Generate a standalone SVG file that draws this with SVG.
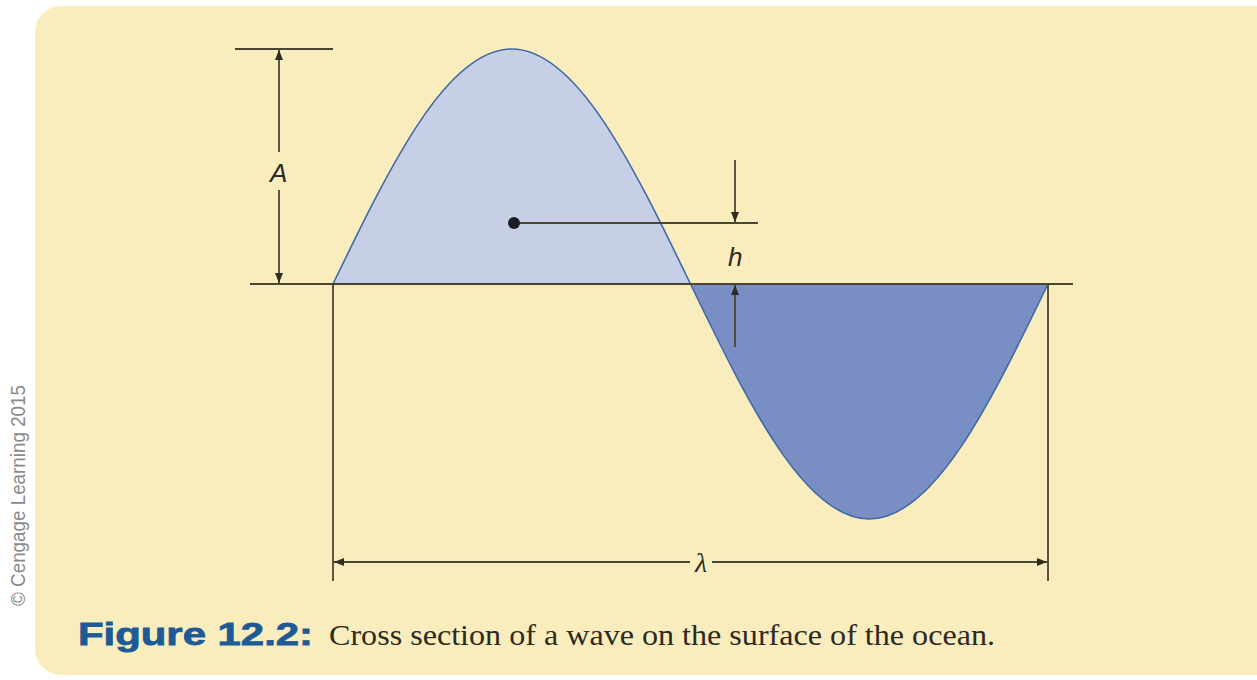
<svg xmlns="http://www.w3.org/2000/svg" width="1257" height="680" viewBox="0 0 1257 680">
<defs>
<style>
.ln{stroke:#4a4530;stroke-width:1.8;fill:none}
.wave{stroke:#3f6aa6;stroke-width:1.6}
.lbl{font-family:"Liberation Sans",Arial,sans-serif;font-style:italic;font-size:26px;fill:#2b2a25}
</style>
<marker id="ah" viewBox="0 0 10 10" refX="10" refY="5" markerWidth="11" markerHeight="10" markerUnits="userSpaceOnUse" orient="auto-start-reverse">
<path d="M0,1 L10,5 L0,9 Z" fill="#2f2b20"/>
</marker>
</defs>
<rect width="1257" height="680" fill="#ffffff"/>
<rect x="35" y="6" width="1250" height="669" rx="26" fill="#faedbd"/>
<text transform="translate(25,606) rotate(-90)" font-family="'Liberation Sans',Arial,sans-serif" font-size="20" fill="#8a8a8a" textLength="221" lengthAdjust="spacingAndGlyphs">© Cengage Learning 2015</text>
<g id="crest">
<path class="wave" fill="#c7cfe6" d="M333,284 C391.3,163.6 447.1,49 511.75,49 C576.4,49 632.2,163.6 690.5,284 Z"/>
</g>
<g id="trough">
<path class="wave" fill="#798fc4" d="M690.5,284 C748.8,404.4 804.6,519 869.25,519 C933.9,519 989.7,404.4 1048,284 Z"/>
</g>
<g id="connectors">
<line class="ln" x1="250" y1="284" x2="1073" y2="284"/>
<line class="ln" x1="235" y1="49" x2="333" y2="49"/>
<line class="ln" x1="279" y1="152" x2="279" y2="50" marker-end="url(#ah)"/>
<line class="ln" x1="279" y1="190" x2="279" y2="283" marker-end="url(#ah)"/>
<line class="ln" x1="514" y1="223" x2="758" y2="223"/>
<line class="ln" x1="735" y1="160" x2="735" y2="222" marker-end="url(#ah)"/>
<line class="ln" x1="735" y1="347" x2="735" y2="285" marker-end="url(#ah)"/>
<line class="ln" x1="333" y1="284" x2="333" y2="581"/>
<line class="ln" x1="1048" y1="284" x2="1048" y2="581"/>
<line class="ln" x1="690" y1="562" x2="334" y2="562" marker-end="url(#ah)"/>
<line class="ln" x1="712" y1="562" x2="1047" y2="562" marker-end="url(#ah)"/>
</g>
<g id="dot"><circle cx="514" cy="223" r="6" fill="#1c1c24"/></g>
<g id="labels">
<text class="lbl" x="270" y="182">A</text>
<text class="lbl" x="728" y="266">h</text>
<text x="701" y="572" font-family="'Liberation Serif','Times New Roman',serif" font-style="italic" font-size="28" fill="#2b2a25" text-anchor="middle">λ</text>
</g>
<g id="caption">
<text x="78" y="645" font-family="'Liberation Sans',Arial,sans-serif" font-weight="bold" font-size="32" fill="#1d5a96" stroke="#1d5a96" stroke-width="0.8" textLength="235" lengthAdjust="spacingAndGlyphs">Figure 12.2:</text>
<text x="329" y="645" font-family="'Liberation Serif','Times New Roman',serif" font-size="30" fill="#2e2a20" textLength="666" lengthAdjust="spacingAndGlyphs">Cross section of a wave on the surface of the ocean.</text>
</g>
</svg>
